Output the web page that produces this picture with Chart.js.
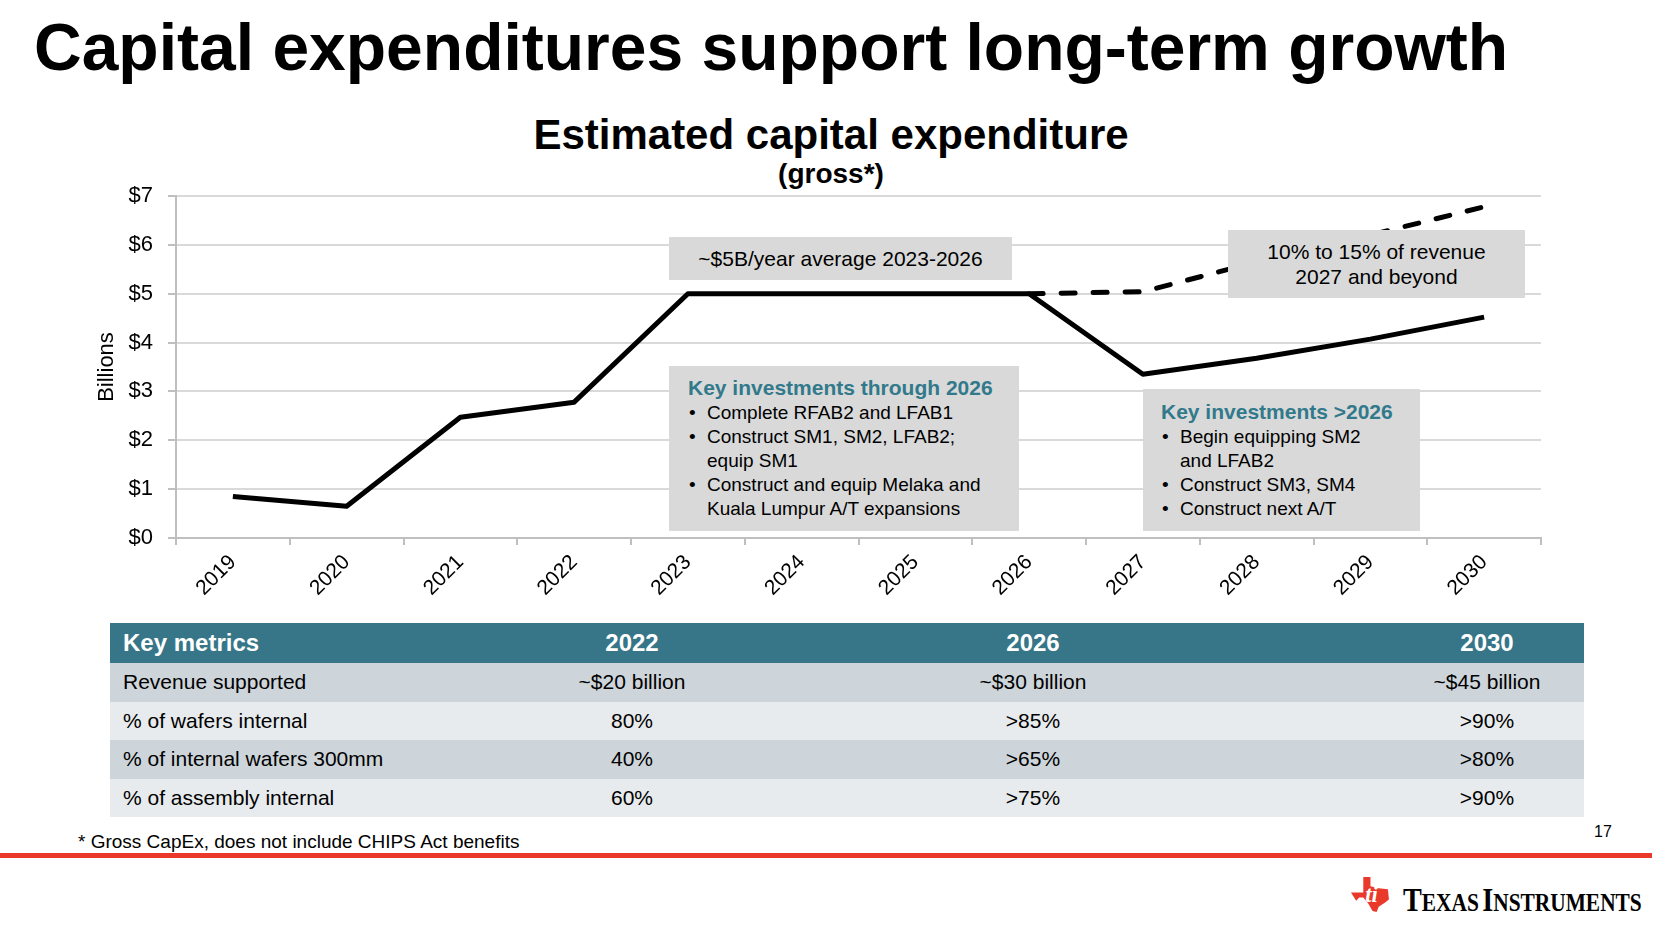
<!DOCTYPE html>
<html>
<head>
<meta charset="utf-8">
<script src="https://cdn.jsdelivr.net/npm/chart.js@4.4.1/dist/chart.umd.min.js"></script>
<style>
  body { margin: 0; width: 1678px; height: 932px; background: #fff; position: relative; overflow: hidden;
         font-family: "Liberation Sans", Arial, sans-serif; color: #000; }
  .abs { position: absolute; }
  #title { left: 34px; top: 14px; font-size: 66px; font-weight: bold; line-height: 1; white-space: nowrap; }
  .ctitle { left: 531px; width: 600px; text-align: center; font-weight: bold; line-height: 1; }
  #wrap { left: 0; top: 0; width: 1678px; height: 620px; }
  .box { background: #d9d9d9; box-sizing: border-box; }
  .box .hd { color: #31798b; font-weight: bold; font-size: 21px; line-height: 26px; white-space: nowrap; }
  .box .li { position: relative; font-size: 19px; line-height: 24px; padding-left: 19px; white-space: nowrap; }
  .box .li.b::before { content: "\2022"; position: absolute; left: 1px; top: 0; }
  .row { left: 110px; width: 1474px; }
  .row span { position: absolute; top: 0; white-space: nowrap; }
  .row .c { transform: translateX(-50%); }
  #redbar { left: 0; top: 853px; width: 1652px; height: 5px; background: #e8392a; }
</style>
</head>
<body>
<div id="title" class="abs">Capital expenditures support long-term growth</div>
<div class="abs ctitle" style="top:114px;font-size:42px;">Estimated capital expenditure</div>
<div class="abs ctitle" style="top:160px;font-size:28px;">(gross*)</div>

<div id="wrap" class="abs"><canvas id="graph"></canvas></div>

<div class="abs box" style="left:669px;top:237px;width:343px;height:43px;font-size:21px;line-height:43px;text-align:center;">~$5B/year average 2023-2026</div>
<div class="abs box" style="left:1228px;top:230px;width:297px;height:68px;font-size:21px;line-height:25px;text-align:center;padding-top:9px;">10% to 15% of revenue<br>2027 and beyond</div>

<div class="abs box" style="left:669px;top:366px;width:350px;height:165px;padding:9px 0 0 19px;">
  <div class="hd">Key investments through 2026</div>
  <div class="li b">Complete RFAB2 and LFAB1</div>
  <div class="li b">Construct SM1, SM2, LFAB2;</div>
  <div class="li">equip SM1</div>
  <div class="li b">Construct and equip Melaka and</div>
  <div class="li">Kuala Lumpur A/T expansions</div>
</div>
<div class="abs box" style="left:1143px;top:389px;width:277px;height:142px;padding:10px 0 0 18px;">
  <div class="hd">Key investments &gt;2026</div>
  <div class="li b">Begin equipping SM2</div>
  <div class="li">and LFAB2</div>
  <div class="li b">Construct SM3, SM4</div>
  <div class="li b">Construct next A/T</div>
</div>

<div id="table"></div>

<div class="abs" style="left:78px;top:832px;font-size:19px;line-height:1;">* Gross CapEx, does not include CHIPS Act benefits</div>
<div class="abs" style="left:1594px;top:824px;font-size:16px;line-height:1;">17</div>
<div id="redbar" class="abs"></div>

<svg class="abs" style="left:1351px;top:877px;" width="41" height="37" viewBox="0 0 40 36">
  <path d="M12,0 L19,0 L19,9 L27,11 L36,12 L37,22 L33,25 L27,29 L25,34 L21,33 L17,26 L12,20 L8,20 L5,23 L0,15 L12,15 Z" fill="#e8392a"/>
  <text x="20" y="24" fill="#fff" font-family="Liberation Serif" font-style="italic" font-weight="bold" font-size="22" text-anchor="middle">ti</text>
</svg>
<div class="abs" style="left:1403px;top:884px;font-family:'Liberation Serif',serif;font-weight:bold;line-height:1;white-space:nowrap;transform:scaleX(0.855);transform-origin:left top;">
  <span style="font-size:33px">T</span><span style="font-size:25px">EXAS</span> <span style="font-size:33px">I</span><span style="font-size:25px">NSTRUMENTS</span>
</div>

<script>
const years = ["2019", "2020", "2021", "2022", "2023", "2024", "2025", "2026", "2027", "2028", "2029", "2030"]
const capexBase = [0.85, 0.65, 2.47, 2.78, 5.0, 5.0, 5.0, 5.0, 3.35, 3.68, 4.07, 4.52]
const capexHigh = [null, null, null, null, null, null, null, 5.0, 5.04, 5.65, 6.2, 6.78]
const yMax = 7

const metricNames = ["Revenue supported", "% of wafers internal", "% of internal wafers 300mm", "% of assembly internal"]
const metricYears = ["2022", "2026", "2030"]
const metric2022 = ["~$20 billion", "80%", "40%", "60%"]
const metric2026 = ["~$30 billion", ">85%", ">65%", ">75%"]
const metric2030 = ["~$45 billion", ">90%", ">80%", ">90%"]

// table
const colCenters = [522, 923, 1377]
const table = document.getElementById("table")
const addRow = (top, height, bg, cells, header) => {
  const row = document.createElement("div")
  row.className = "abs row"
  row.style.top = top + "px"
  row.style.height = height + "px"
  row.style.background = bg
  row.style.lineHeight = height + "px"
  row.style.fontSize = header ? "24px" : "21px"
  if (header) { row.style.color = "#fff"; row.style.fontWeight = "bold" }
  cells.forEach((txt, i) => {
    const s = document.createElement("span")
    s.textContent = txt
    if (i === 0) s.style.left = "13px"
    else { s.className = "c"; s.style.left = colCenters[i - 1] + "px" }
    row.appendChild(s)
  })
  table.appendChild(row)
}
addRow(623, 40, "#367688", ["Key metrics", ...metricYears], true)
metricNames.forEach((name, i) => {
  addRow(663 + i * 38.5, 38.5, i % 2 === 0 ? "#cdd5da" : "#e8ebed",
    [name, metric2022[i], metric2026[i], metric2030[i]], false)
})

// chart
Chart.defaults.font.family = "'Liberation Sans', Arial, sans-serif"
Chart.defaults.color = "#000"

const ctx = document.getElementById("graph").getContext("2d")
new Chart(ctx, {
  type: "line",
  data: {
    labels: years,
    datasets: [
      {
        data: capexBase,
        borderColor: "#000",
        borderWidth: 5,
        pointRadius: 0,
        tension: 0,
        borderJoinStyle: "round",
        order: 1
      },
      {
        data: capexHigh,
        borderColor: "#000",
        borderWidth: 5,
        borderDash: [14, 18],
        borderCapStyle: "round",
        pointRadius: 0,
        tension: 0,
        order: 2
      }
    ]
  },
  options: {
    responsive: true,
    maintainAspectRatio: false,
    animation: false,
    layout: { padding: { top: 196, right: 137, left: 0, bottom: 0 } },
    plugins: { legend: { display: false }, tooltip: { enabled: false } },
    scales: {
      x: {
        offset: true,
        afterFit: (scale) => { scale.height = 82 },
        grid: { offset: true, drawOnChartArea: false, drawTicks: true, tickLength: 7, tickColor: "#bfbfbf", lineWidth: 2 },
        border: { color: "#bfbfbf", width: 2 },
        ticks: { font: { size: 21 }, maxRotation: 45, minRotation: 45, autoSkip: false, padding: 5 }
      },
      y: {
        min: 0,
        max: yMax,
        afterFit: (scale) => { scale.width = 176 },
        grid: { color: "#d9d9d9", lineWidth: 2, tickLength: 8, tickColor: "#bfbfbf" },
        border: { color: "#bfbfbf", width: 2 },
        ticks: { stepSize: 1, font: { size: 22 }, padding: 15, callback: (v) => "$" + v },
        title: { display: true, text: "Billions", font: { size: 22 }, padding: { top: 94, bottom: 0 } }
      }
    }
  }
})
</script>
</body>
</html>
